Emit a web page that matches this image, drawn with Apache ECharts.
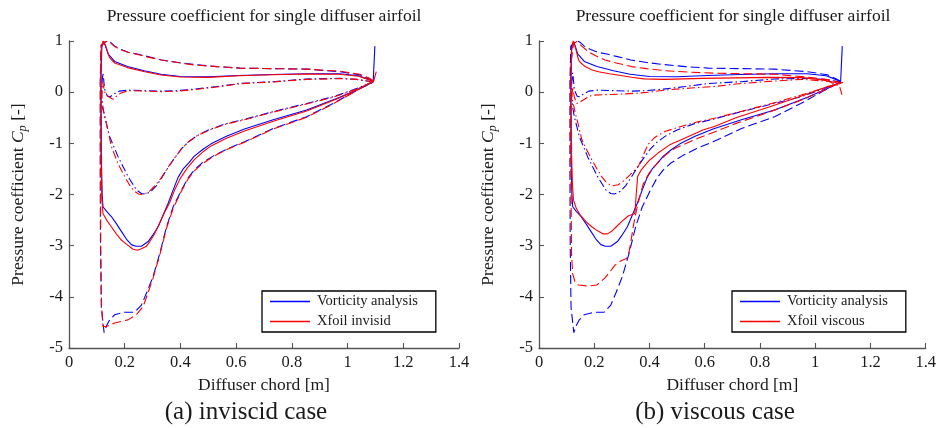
<!DOCTYPE html>
<html>
<head>
<meta charset="utf-8">
<script src="https://cdn.jsdelivr.net/npm/echarts@6/dist/echarts.min.js"></script>
<style>
  html, body { margin: 0; padding: 0; background: #fff; }
  #chart { width: 939px; height: 428px; }
</style>
</head>
<body>
<div id="chart"></div>
<script>
// Pressure coefficient loops [x (m), Cp], each traced trailing edge -> pressure side
// -> leading edge -> suction side -> trailing edge.

// Vorticity analysis (same in both cases)
const vortSolid = [[1.098,0.90],[1.092,0.21],[1.074,0.25],[1.04,0.32],[0.97,0.36],[0.85,0.36],[0.73,0.345],[0.61,0.325],[0.50,0.30],[0.40,0.305],[0.33,0.35],[0.27,0.42],[0.21,0.50],[0.164,0.60],[0.14,0.75],[0.13,0.92],[0.125,0.99],[0.118,0.9],[0.115,0.3],[0.116,-1.2],[0.119,-2.0],[0.122,-2.24],[0.135,-2.33],[0.152,-2.43],[0.17,-2.57],[0.188,-2.72],[0.206,-2.87],[0.224,-2.98],[0.24,-3.01],[0.26,-3.01],[0.284,-2.92],[0.30,-2.80],[0.32,-2.63],[0.338,-2.40],[0.356,-2.17],[0.374,-1.91],[0.392,-1.66],[0.41,-1.50],[0.43,-1.38],[0.45,-1.25],[0.48,-1.12],[0.51,-1.01],[0.565,-0.86],[0.63,-0.72],[0.733,-0.54],[0.853,-0.35],[0.972,-0.10],[1.044,0.07],[1.092,0.20]];
const vortDashed = [[1.092,0.21],[1.08,0.25],[1.044,0.34],[0.972,0.40],[0.853,0.45],[0.73,0.46],[0.613,0.47],[0.53,0.50],[0.45,0.54],[0.39,0.58],[0.332,0.63],[0.28,0.70],[0.25,0.74],[0.212,0.78],[0.185,0.84],[0.164,0.90],[0.15,0.97],[0.14,1.0],[0.128,0.97],[0.115,0.9],[0.112,0.2],[0.112,-1.5],[0.113,-3.0],[0.116,-4.2],[0.126,-4.70],[0.136,-4.55],[0.146,-4.45],[0.164,-4.35],[0.20,-4.30],[0.236,-4.30],[0.26,-4.16],[0.278,-3.93],[0.302,-3.60],[0.326,-3.15],[0.35,-2.63],[0.374,-2.24],[0.404,-1.91],[0.427,-1.68],[0.45,-1.52],[0.476,-1.39],[0.52,-1.24],[0.571,-1.10],[0.63,-0.97],[0.733,-0.71],[0.853,-0.48],[0.948,-0.22],[1.032,0.03],[1.092,0.20]];
const vortDashDot = [[1.092,0.20],[1.08,0.21],[1.032,0.25],[0.972,0.27],[0.853,0.258],[0.733,0.205],[0.613,0.17],[0.53,0.11],[0.45,0.06],[0.39,0.03],[0.332,0.02],[0.27,0.03],[0.212,0.04],[0.18,0.02],[0.16,-0.04],[0.148,-0.09],[0.138,-0.08],[0.128,0.05],[0.122,0.38],[0.118,0.15],[0.118,-0.15],[0.122,-0.3],[0.128,-0.48],[0.146,-0.87],[0.176,-1.26],[0.212,-1.65],[0.242,-1.91],[0.26,-1.98],[0.272,-1.99],[0.284,-1.97],[0.296,-1.93],[0.315,-1.82],[0.332,-1.68],[0.355,-1.48],[0.38,-1.28],[0.405,-1.10],[0.427,-0.98],[0.46,-0.85],[0.50,-0.74],[0.56,-0.62],[0.63,-0.53],[0.733,-0.38],[0.853,-0.22],[0.948,-0.09],[1.032,0.07],[1.092,0.20]];

// Xfoil, inviscid
const xfInvSolid = [[1.103,0.40],[1.094,0.22],[1.074,0.25],[1.04,0.31],[0.97,0.35],[0.85,0.355],[0.73,0.34],[0.61,0.32],[0.50,0.29],[0.40,0.295],[0.33,0.335],[0.272,0.40],[0.21,0.48],[0.164,0.57],[0.145,0.68],[0.132,0.9],[0.122,1.0],[0.116,0.85],[0.114,0.2],[0.115,-1.2],[0.118,-2.1],[0.122,-2.37],[0.135,-2.50],[0.152,-2.63],[0.17,-2.77],[0.188,-2.89],[0.206,-2.97],[0.23,-3.07],[0.245,-3.09],[0.26,-3.06],[0.278,-3.01],[0.29,-2.92],[0.305,-2.79],[0.326,-2.55],[0.345,-2.33],[0.362,-2.15],[0.38,-1.90],[0.40,-1.68],[0.425,-1.48],[0.45,-1.32],[0.48,-1.17],[0.51,-1.05],[0.565,-0.90],[0.63,-0.76],[0.733,-0.57],[0.853,-0.37],[0.972,-0.11],[1.044,0.07],[1.094,0.22]];
const xfInvDashed = [[1.094,0.22],[1.08,0.27],[1.044,0.35],[0.972,0.41],[0.853,0.45],[0.73,0.46],[0.613,0.47],[0.53,0.50],[0.45,0.53],[0.39,0.58],[0.332,0.63],[0.28,0.69],[0.25,0.73],[0.212,0.78],[0.185,0.83],[0.164,0.89],[0.15,0.96],[0.14,1.0],[0.128,0.98],[0.115,0.92],[0.113,0.2],[0.113,-1.5],[0.114,-3.0],[0.117,-4.2],[0.122,-4.58],[0.134,-4.58],[0.164,-4.51],[0.212,-4.45],[0.242,-4.35],[0.266,-4.19],[0.28,-3.98],[0.302,-3.63],[0.326,-3.18],[0.35,-2.66],[0.374,-2.27],[0.404,-1.93],[0.427,-1.70],[0.45,-1.54],[0.476,-1.41],[0.52,-1.25],[0.571,-1.11],[0.63,-0.98],[0.733,-0.72],[0.853,-0.49],[0.948,-0.23],[1.032,0.03],[1.094,0.22]];
const xfInvDashDot = [[1.094,0.21],[1.08,0.21],[1.032,0.25],[0.972,0.265],[0.853,0.25],[0.733,0.20],[0.613,0.165],[0.53,0.10],[0.45,0.05],[0.39,0.02],[0.332,0.01],[0.27,0.02],[0.212,0.03],[0.185,-0.02],[0.17,-0.08],[0.158,-0.14],[0.145,-0.10],[0.13,-0.03],[0.12,0.2],[0.117,-0.1],[0.12,-0.3],[0.13,-0.5],[0.152,-1.06],[0.176,-1.40],[0.20,-1.65],[0.22,-1.84],[0.236,-1.94],[0.25,-1.99],[0.26,-2.0],[0.275,-1.98],[0.29,-1.93],[0.31,-1.82],[0.332,-1.67],[0.355,-1.47],[0.38,-1.28],[0.405,-1.10],[0.427,-0.98],[0.46,-0.85],[0.50,-0.75],[0.56,-0.63],[0.63,-0.54],[0.733,-0.39],[0.853,-0.23],[0.948,-0.10],[1.032,0.06],[1.094,0.21]];

// Xfoil, viscous
const xfViscSolid = [[1.10,0.19],[1.09,0.17],[1.073,0.19],[1.025,0.24],[0.953,0.285],[0.833,0.29],[0.713,0.28],[0.593,0.27],[0.455,0.25],[0.38,0.26],[0.335,0.29],[0.29,0.33],[0.255,0.36],[0.215,0.40],[0.19,0.44],[0.167,0.50],[0.15,0.58],[0.143,0.63],[0.133,0.85],[0.124,1.0],[0.118,0.8],[0.116,0],[0.118,-1.2],[0.121,-1.8],[0.125,-2.11],[0.135,-2.27],[0.149,-2.40],[0.17,-2.53],[0.191,-2.63],[0.212,-2.71],[0.233,-2.77],[0.248,-2.77],[0.263,-2.72],[0.28,-2.63],[0.299,-2.53],[0.323,-2.42],[0.347,-2.37],[0.352,-2.0],[0.357,-1.65],[0.37,-1.52],[0.40,-1.33],[0.431,-1.19],[0.473,-1.03],[0.515,-0.93],[0.593,-0.74],[0.635,-0.67],[0.713,-0.50],[0.833,-0.29],[0.953,-0.07],[1.05,0.12],[1.09,0.17]];
const xfViscDashed = [[1.10,0.19],[1.085,0.20],[1.049,0.24],[0.977,0.29],[0.857,0.35],[0.75,0.36],[0.641,0.37],[0.55,0.39],[0.455,0.42],[0.39,0.46],[0.335,0.50],[0.28,0.57],[0.239,0.63],[0.205,0.71],[0.179,0.79],[0.155,0.90],[0.137,0.99],[0.125,0.95],[0.117,0.6],[0.115,-0.5],[0.116,-2.0],[0.118,-3.2],[0.122,-3.55],[0.13,-3.70],[0.143,-3.77],[0.179,-3.79],[0.209,-3.77],[0.239,-3.63],[0.258,-3.50],[0.275,-3.38],[0.299,-3.29],[0.317,-3.25],[0.325,-3.15],[0.332,-2.95],[0.341,-2.63],[0.353,-2.30],[0.365,-2.04],[0.377,-1.80],[0.40,-1.57],[0.431,-1.37],[0.46,-1.22],[0.491,-1.10],[0.575,-0.90],[0.635,-0.78],[0.713,-0.61],[0.833,-0.39],[0.953,-0.15],[1.04,0.06],[1.085,0.18]];
const xfViscDashDot = [[1.097,-0.05],[1.088,0.12],[1.05,0.21],[0.953,0.25],[0.833,0.21],[0.713,0.16],[0.635,0.11],[0.55,0.08],[0.473,0.05],[0.40,0.0],[0.353,-0.02],[0.29,-0.04],[0.233,-0.05],[0.191,-0.06],[0.17,-0.12],[0.149,-0.19],[0.137,-0.22],[0.128,-0.1],[0.122,0.1],[0.119,-0.1],[0.125,-0.25],[0.131,-0.40],[0.143,-0.65],[0.155,-0.93],[0.175,-1.15],[0.191,-1.32],[0.21,-1.50],[0.227,-1.65],[0.24,-1.74],[0.251,-1.79],[0.265,-1.83],[0.287,-1.81],[0.305,-1.74],[0.323,-1.65],[0.34,-1.56],[0.359,-1.46],[0.375,-1.26],[0.395,-1.02],[0.42,-0.88],[0.455,-0.77],[0.52,-0.66],[0.575,-0.58],[0.635,-0.51],[0.737,-0.37],[0.857,-0.20],[0.977,-0.01],[1.06,0.12],[1.09,0.17]];

const xRange = [0, 1.4], xStep = 0.2;
const yRange = [-5, 1], yStep = 1;
const titleText = 'Pressure coefficient for single diffuser airfoil';
const xName = 'Diffuser chord [m]';
const legendVort = 'Vorticity analysis';
const legendInv = 'Xfoil invisid';
const legendVisc = 'Xfoil viscous';
const captions = ['(a) inviscid case', '(b) viscous case'];

const FONT = '"Liberation Serif", "DejaVu Serif", serif';
const BLUE = '#0000ff', RED = '#ff0000';
const DASH = [9, 4];
const DASHDOT = [8, 3, 1.5, 3];
const INK = '#1a1a1a';
const AXIS = '#555';

const grids = [
  { left: 69, top: 41, width: 390, height: 307 },
  { left: 539, top: 41, width: 389, height: 307 }
];

function xAxisFor(i) {
  return {
    type: 'value', gridIndex: i, min: xRange[0], max: xRange[1], interval: xStep,
    axisLine: { show: true, onZero: false, lineStyle: { color: AXIS, width: 1.3 } },
    axisTick: { show: true, inside: true, length: 5, lineStyle: { color: AXIS, width: 1.1 } },
    axisLabel: { fontFamily: FONT, fontSize: 16.5, color: INK, margin: 6 },
    splitLine: { show: false },
    name: xName, nameLocation: 'middle', nameGap: 28,
    nameTextStyle: { fontFamily: FONT, fontSize: 17.5, color: INK }
  };
}
function yAxisFor(i) {
  return {
    type: 'value', gridIndex: i, min: yRange[0], max: yRange[1], interval: yStep,
    axisLine: { show: true, onZero: false, lineStyle: { color: AXIS, width: 1.3 } },
    axisTick: { show: true, inside: true, length: 5, lineStyle: { color: AXIS, width: 1.1 } },
    axisLabel: { fontFamily: FONT, fontSize: 16.5, color: INK, margin: 6 },
    splitLine: { show: false },
    name: 'Pressure coefficient {it|C}{sub|p} [-]', nameLocation: 'middle', nameGap: 40,
    nameTextStyle: {
      fontFamily: FONT, fontSize: 17.5, color: INK, lineHeight: 22,
      rich: {
        it: { fontFamily: FONT, fontSize: 17.5, fontStyle: 'italic', color: INK, lineHeight: 22 },
        sub: { fontFamily: FONT, fontSize: 12.5, fontStyle: 'italic', color: INK, lineHeight: 22, verticalAlign: 'bottom', padding: [8, 0, 0, 0] }
      }
    }
  };
}

function curve(name, data, color, dash, i) {
  return {
    type: 'line', name: name, data: data, xAxisIndex: i, yAxisIndex: i,
    symbol: 'none', showSymbol: false, silent: true, clip: false,
    lineStyle: { color: color, width: 1.1, type: dash },
    itemStyle: { color: color }
  };
}

function legendFor(i, names) {
  const g = grids[i];
  return {
    orient: 'vertical', left: g.left + 193, top: 291, data: names,
    icon: 'rect', itemWidth: 40, itemHeight: 1.4, itemGap: 5, selectedMode: false,
    backgroundColor: '#fff', borderColor: '#000', borderWidth: 1.3,
    padding: [3, 18, 3, 8],
    textStyle: { fontFamily: FONT, fontSize: 14.5, color: INK, padding: [0, 0, 0, 2] }
  };
}

function label(x, y, text, size) {
  return {
    type: 'text', x: x, y: y, silent: true,
    style: { text: text, font: size + 'px ' + FONT, fill: INK, textAlign: 'center', textVerticalAlign: 'middle', align: 'center', verticalAlign: 'middle' }
  };
}

const chart = echarts.init(document.getElementById('chart'), null, { renderer: 'canvas' });
chart.setOption({
  animation: false,
  backgroundColor: '#fff',
  grid: grids,
  xAxis: [xAxisFor(0), xAxisFor(1)],
  yAxis: [yAxisFor(0), yAxisFor(1)],
  legend: [legendFor(0, [legendVort, legendInv]), legendFor(1, [legendVort, legendVisc])],
  series: [
    curve(legendVort, vortSolid, BLUE, 'solid', 0),
    curve(legendVort, vortDashed, BLUE, DASH, 0),
    curve(legendVort, vortDashDot, BLUE, DASHDOT, 0),
    curve(legendInv, xfInvSolid, RED, 'solid', 0),
    curve(legendInv, xfInvDashed, RED, DASH, 0),
    curve(legendInv, xfInvDashDot, RED, DASHDOT, 0),
    curve(legendVort, vortSolid, BLUE, 'solid', 1),
    curve(legendVort, vortDashed, BLUE, DASH, 1),
    curve(legendVort, vortDashDot, BLUE, DASHDOT, 1),
    curve(legendVisc, xfViscSolid, RED, 'solid', 1),
    curve(legendVisc, xfViscDashed, RED, DASH, 1),
    curve(legendVisc, xfViscDashDot, RED, DASHDOT, 1)
  ],
  graphic: [
    label(264, 16, titleText, 17.5),
    label(733, 16, titleText, 17.5),
    label(246, 412, captions[0], 25),
    label(715, 412, captions[1], 25)
  ]
});
</script>
</body>
</html>
